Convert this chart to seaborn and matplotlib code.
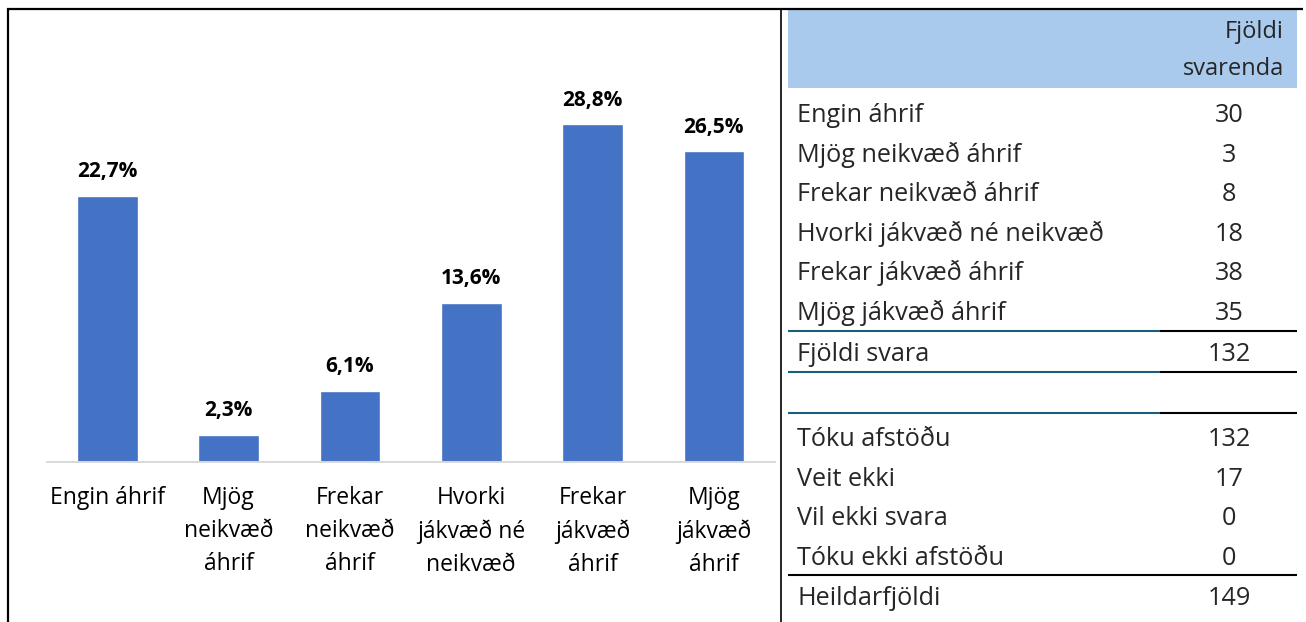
import matplotlib
matplotlib.use("Agg")
import matplotlib.pyplot as plt
from matplotlib.lines import Line2D
from matplotlib.patches import Rectangle
import seaborn as sns
import pandas as pd

# ---- data ----
categories = ["Engin áhrif", "Mjög\nneikvæð\náhrif", "Frekar\nneikvæð\náhrif",
              "Hvorki\njákvæð né\nneikvæð", "Frekar\njákvæð\náhrif", "Mjög\njákvæð\náhrif"]
percent = [22.7, 2.3, 6.1, 13.6, 28.8, 26.5]
value_labels = ["22,7%", "2,3%", "6,1%", "13,6%", "28,8%", "26,5%"]

table_header = ["Fjöldi", "svarenda"]
table_rows1 = ["Engin áhrif", "Mjög neikvæð áhrif", "Frekar neikvæð áhrif",
               "Hvorki jákvæð né neikvæð", "Frekar jákvæð áhrif", "Mjög jákvæð áhrif"]
table_vals1 = ["30", "3", "8", "18", "38", "35"]
total1_label = "Fjöldi svara"
total1_value = "132"
table_rows2 = ["Tóku afstöðu", "Veit ekki", "Vil ekki svara", "Tóku ekki afstöðu"]
table_vals2 = ["132", "17", "0", "0"]
total2_label = "Heildarfjöldi"
total2_value = "149"

W, H = 1306, 622
sns.set_theme(style="white")
plt.rcParams["font.family"] = ["Open Sans", "DejaVu Sans"]

fig = plt.figure(figsize=(W / 100, H / 100), dpi=100)

def fx(x):
    return x / W

def fy(y):
    return 1 - y / H

# ---- bar chart ----
ax_l, ax_r, ax_b = 46.5, 774.5, 462
ymax = 35
ax_t = ax_b - ymax * 11.72
ax = fig.add_axes([fx(ax_l), fy(ax_b), fx(ax_r) - fx(ax_l), (ax_b - ax_t) / H])
df = pd.DataFrame({"cat": categories, "pct": percent})
sns.barplot(data=df, x="cat", y="pct", color="#4472C4", saturation=1, width=0.5, ax=ax)
ax.set_ylim(0, ymax)
ax.set_xlim(-0.5, len(categories) - 0.5)
for s in ["top", "right", "left"]:
    ax.spines[s].set_visible(False)
ax.spines["bottom"].set_color("#d9d9d9")
ax.spines["bottom"].set_linewidth(1.4)
ax.set_yticks([])
ax.set_xlabel("")
ax.set_ylabel("")
ax.tick_params(axis="x", length=0, pad=17.5)
ax.set_xticks(range(len(categories)))
ax.set_xticklabels(categories, fontsize=16.5, color="#000000", linespacing=1.5)
for i, (v, lab) in enumerate(zip(percent, value_labels)):
    ax.annotate(lab, (i, v), xytext=(0, 13.5), textcoords="offset points",
                ha="center", va="baseline", fontsize=15, fontweight="bold", color="#000000")

# ---- frame lines ----
def hline(y, x0, x1, color="black", lw=1.5):
    fig.add_artist(Line2D([fx(x0), fx(x1)], [fy(y), fy(y)], color=color, lw=lw,
                          transform=fig.transFigure, solid_capstyle="butt"))

def vline(x, y0, y1, color="black", lw=1.5):
    fig.add_artist(Line2D([fx(x), fx(x)], [fy(y0), fy(y1)], color=color, lw=lw,
                          transform=fig.transFigure, solid_capstyle="butt"))

hline(8.5, 7, 1303, lw=1.6)
vline(7.8, 7.5, 622, lw=1.6)
vline(781, 7.5, 622, lw=1.2)

# ---- table ----
fig.add_artist(Rectangle((fx(788), fy(88)), fx(1297) - fx(788), (88 - 10) / H,
                         transform=fig.transFigure, facecolor="#a9caec", edgecolor="none"))
tfs = 18.2
hfs = 17
label_x = 797
val_x = 1229
fig.text(fx(1284), fy(38), table_header[0], ha="right", va="baseline", fontsize=hfs)
fig.text(fx(1284), fy(75), table_header[1], ha="right", va="baseline", fontsize=hfs)

row_centers1 = [114, 153.6, 193.2, 232.8, 272.4, 312]
for lab, val, yc in zip(table_rows1, table_vals1, row_centers1):
    fig.text(fx(label_x), fy(yc + 8), lab, ha="left", va="baseline", fontsize=tfs)
    fig.text(fx(val_x), fy(yc + 8), val, ha="center", va="baseline", fontsize=tfs)

teal = "#1b5e7b"
for yl in [331, 372, 413]:
    hline(yl, 788, 1160, color=teal, lw=1.5)
    hline(yl, 1160, 1297, color="black", lw=1.5)

fig.text(fx(label_x), fy(353 + 8), total1_label, ha="left", va="baseline", fontsize=tfs)
fig.text(fx(val_x), fy(353 + 8), total1_value, ha="center", va="baseline", fontsize=tfs)

row_centers2 = [438, 477.6, 517.2, 556.8]
for lab, val, yc in zip(table_rows2, table_vals2, row_centers2):
    fig.text(fx(label_x), fy(yc + 8), lab, ha="left", va="baseline", fontsize=tfs)
    fig.text(fx(val_x), fy(yc + 8), val, ha="center", va="baseline", fontsize=tfs)

hline(575, 788, 1297, color="black", lw=1.5)
fig.text(fx(label_x), fy(605), total2_label, ha="left", va="baseline", fontsize=tfs)
fig.text(fx(val_x), fy(605), total2_value, ha="center", va="baseline", fontsize=tfs)

fig.savefig("out.png", dpi=100)
